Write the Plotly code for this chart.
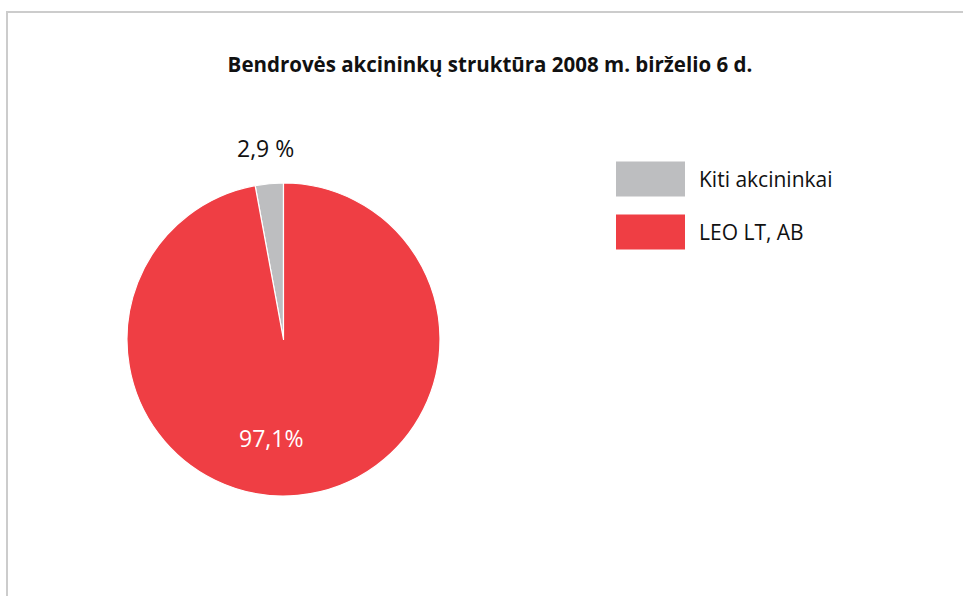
import plotly.graph_objects as go

labels = ["Kiti akcininkai", "LEO LT, AB"]
values = [2.9, 97.1]
value_texts = ["2,9 %", "97,1%"]
colors = ["#BDBEC0", "#EF3E44"]
title_text = "Bendrovės akcininkų struktūra 2008 m. birželio 6 d."

W, H = 963, 596
FONT = "Open Sans"

# first slice runs counterclockwise from 12 o'clock
start_rot = -values[0] / sum(values) * 360

fig = go.Figure()
fig.add_trace(go.Pie(
    labels=labels, values=values, sort=False, direction="clockwise",
    rotation=start_rot, marker=dict(colors=colors, line=dict(color="white", width=1.2)),
    textinfo="none", hoverinfo="label+percent", showlegend=False,
    domain=dict(x=[127/W, 440/W], y=[1-496/H, 1-183/H]),
))

shapes = [
    dict(type="line", xref="paper", yref="paper", x0=7/W, x1=7/W, y0=-0.05, y1=1-12/H,
         line=dict(color="#CCCCCC", width=2)),
    dict(type="line", xref="paper", yref="paper", x0=6/W, x1=1.05, y0=1-12/H, y1=1-12/H,
         line=dict(color="#CCCCCC", width=2)),
]
annotations = []
# custom legend
legend_y = [179, 232]
for lab, col, yc in zip(labels, colors, legend_y):
    shapes.append(dict(type="rect", xref="paper", yref="paper",
                       x0=616/W, x1=685/W, y0=1-(yc+17.5)/H, y1=1-(yc-17.5)/H,
                       fillcolor=col, line=dict(width=0)))
    annotations.append(dict(text=lab, xref="paper", yref="paper", x=697/W, y=1-yc/H,
                            xanchor="left", yanchor="middle", showarrow=False,
                            font=dict(family=FONT, size=21, color="#111111")))
# slice value labels
annotations.append(dict(text=value_texts[0], xref="paper", yref="paper", x=265/W, y=1-148/H,
                        xanchor="center", yanchor="middle", showarrow=False,
                        font=dict(family=FONT, size=23, color="#111111")))
annotations.append(dict(text=value_texts[1], xref="paper", yref="paper", x=271/W, y=1-438/H,
                        xanchor="center", yanchor="middle", showarrow=False,
                        font=dict(family=FONT, size=23, color="white")))

fig.update_layout(
    width=W, height=H, margin=dict(l=0, r=0, t=0, b=0),
    paper_bgcolor="white", plot_bgcolor="white",
    title=dict(text="<b>" + title_text + "</b>", x=490/W, xanchor="center",
               y=1-65/H, yanchor="middle", yref="container",
               font=dict(family=FONT, size=20.5, color="#111111")),
    shapes=shapes, annotations=annotations,
)
fig.write_html("out.html", config={"displayModeBar": False},
               post_script="document.body.style.margin='0';")
